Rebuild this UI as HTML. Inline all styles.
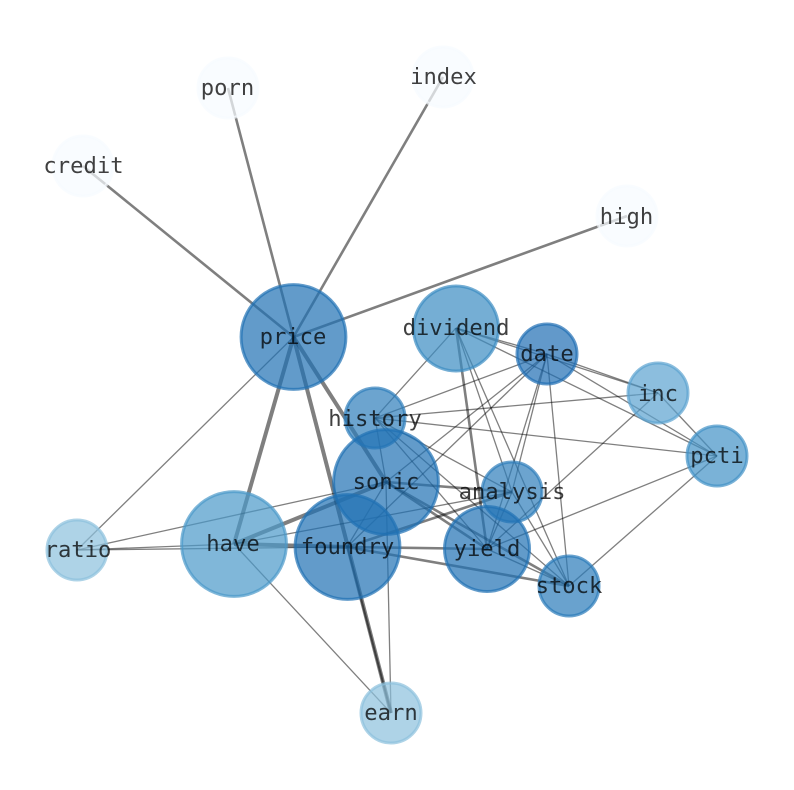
<!DOCTYPE html>
<html>
<head>
<meta charset="utf-8">
<style>
html,body{margin:0;padding:0;background:#fff;}
svg{display:block;}
text{font-family:"DejaVu Sans Mono","Liberation Mono",monospace;font-size:22.2px;fill:#000;fill-opacity:.75;text-anchor:middle;}
.e{stroke:#000;stroke-opacity:.5;fill:none;}
.n{stroke-width:3;fill-opacity:.7;stroke-opacity:.7;}
</style>
</head>
<body>
<svg width="794" height="790" viewBox="0 0 794 790" xmlns="http://www.w3.org/2000/svg">
<g class="e" stroke-width="2.6">
<line x1="293.5" y1="337" x2="83" y2="166"/>
<line x1="293.5" y1="337" x2="228" y2="88"/>
<line x1="293.5" y1="337" x2="443" y2="77"/>
<line x1="293.5" y1="337" x2="627" y2="216"/>
</g>
<g class="e" stroke-width="4">
<line x1="293.5" y1="337" x2="234" y2="544"/>
<line x1="293.5" y1="337" x2="386" y2="482"/>
<line x1="234" y1="544" x2="386" y2="482"/>
<line x1="234" y1="544" x2="347" y2="547"/>
<line x1="293.5" y1="337" x2="391" y2="713"/>
</g>
<g class="e" stroke-width="2.6">
<line x1="386" y1="482" x2="487" y2="549"/>
<line x1="386" y1="482" x2="512" y2="492"/>
<line x1="347" y1="547" x2="569" y2="586"/>
<line x1="347" y1="547" x2="487" y2="549"/>
<line x1="347" y1="547" x2="512" y2="492"/>
<line x1="386" y1="482" x2="569" y2="586"/>
<line x1="456" y1="328" x2="487" y2="549"/>
</g>
<g class="e" stroke-width="1.3">
<line x1="347.5" y1="547" x2="391" y2="713" style="stroke-width:2"/>
<line x1="293.5" y1="337" x2="77" y2="550"/>
<line x1="234" y1="544" x2="77" y2="550"/>
<line x1="487" y1="549" x2="569" y2="586"/>
<line x1="456" y1="328" x2="375" y2="418"/>
<line x1="456" y1="328" x2="547" y2="354"/>
<line x1="456" y1="328" x2="658" y2="393"/>
<line x1="456" y1="328" x2="717" y2="456"/>
<line x1="456" y1="328" x2="512" y2="492"/>
<line x1="456" y1="328" x2="569" y2="586"/>
<line x1="547" y1="354" x2="658" y2="393"/>
<line x1="547" y1="354" x2="717" y2="456"/>
<line x1="547" y1="354" x2="375" y2="418"/>
<line x1="547" y1="354" x2="386" y2="482"/>
<line x1="547" y1="354" x2="347" y2="547"/>
<line x1="547" y1="354" x2="512" y2="492"/>
<line x1="547" y1="354" x2="487" y2="549"/>
<line x1="547" y1="354" x2="569" y2="586"/>
<line x1="375" y1="418" x2="658" y2="393"/>
<line x1="375" y1="418" x2="717" y2="456"/>
<line x1="375" y1="418" x2="512" y2="492"/>
<line x1="375" y1="418" x2="487" y2="549"/>
<line x1="375" y1="418" x2="569" y2="586"/>
<line x1="375" y1="418" x2="386" y2="482"/>
<line x1="658" y1="393" x2="717" y2="456"/>
<line x1="658" y1="393" x2="487" y2="549"/>
<line x1="717" y1="456" x2="487" y2="549"/>
<line x1="717" y1="456" x2="569" y2="586"/>
<line x1="512" y1="492" x2="487" y2="549"/>
<line x1="512" y1="492" x2="569" y2="586"/>
<line x1="512" y1="492" x2="234" y2="544"/>
<line x1="386" y1="482" x2="77" y2="550"/>
<line x1="386" y1="482" x2="391" y2="713"/>
<line x1="386" y1="482" x2="347" y2="547"/>
<line x1="347" y1="547" x2="77" y2="550"/>
<line x1="234" y1="544" x2="391" y2="713"/>
</g>
<g>
<circle class="n" cx="83" cy="166" r="30" fill="#f7fbff" stroke="#f7fbff"/>
<circle class="n" cx="228" cy="88" r="30" fill="#f7fbff" stroke="#f7fbff"/>
<circle class="n" cx="443" cy="77" r="30" fill="#f7fbff" stroke="#f7fbff"/>
<circle class="n" cx="627" cy="216" r="30" fill="#f7fbff" stroke="#f7fbff"/>
<circle class="n" cx="293.5" cy="337" r="52.4" fill="#2070b4" stroke="#2070b4"/>
<circle class="n" cx="456" cy="328.5" r="42.5" fill="#3b8bc2" stroke="#3b8bc2"/>
<circle class="n" cx="547" cy="354" r="30" fill="#1f6eb3" stroke="#1f6eb3"/>
<circle class="n" cx="658" cy="393" r="30" fill="#5ba3d0" stroke="#5ba3d0"/>
<circle class="n" cx="717" cy="456" r="30" fill="#4292c6" stroke="#4292c6"/>
<circle class="n" cx="375" cy="418" r="30" fill="#2d7dbb" stroke="#2d7dbb"/>
<circle class="n" cx="386" cy="482" r="52.4" fill="#2070b4" stroke="#2070b4"/>
<circle class="n" cx="512" cy="492" r="30" fill="#2d7dbb" stroke="#2d7dbb"/>
<circle class="n" cx="234" cy="544" r="52.4" fill="#4a98c9" stroke="#4a98c9"/>
<circle class="n" cx="347.5" cy="547" r="52.4" fill="#2070b4" stroke="#2070b4"/>
<circle class="n" cx="487" cy="549" r="42.5" fill="#2070b4" stroke="#2070b4"/>
<circle class="n" cx="569" cy="586" r="30" fill="#2a7ab9" stroke="#2a7ab9"/>
<circle class="n" cx="77" cy="550" r="30" fill="#8cc0dd" stroke="#8cc0dd"/>
<circle class="n" cx="391" cy="713" r="30" fill="#8cc0dd" stroke="#8cc0dd"/>
</g>
<g>
<text x="83.5" y="173">credit</text>
<text x="227.5" y="95">porn</text>
<text x="443.5" y="84">index</text>
<text x="626.5" y="224">high</text>
<text x="293" y="344">price</text>
<text x="456" y="335">dividend</text>
<text x="547" y="361">date</text>
<text x="658" y="401">inc</text>
<text x="717" y="463">pcti</text>
<text x="375" y="426">history</text>
<text x="386" y="489">sonic</text>
<text x="512" y="499">analysis</text>
<text x="233" y="551">have</text>
<text x="347.5" y="554">foundry</text>
<text x="487" y="556">yield</text>
<text x="569" y="593">stock</text>
<text x="78" y="557">ratio</text>
<text x="391" y="720">earn</text>
</g>
</svg>
</body>
</html>
